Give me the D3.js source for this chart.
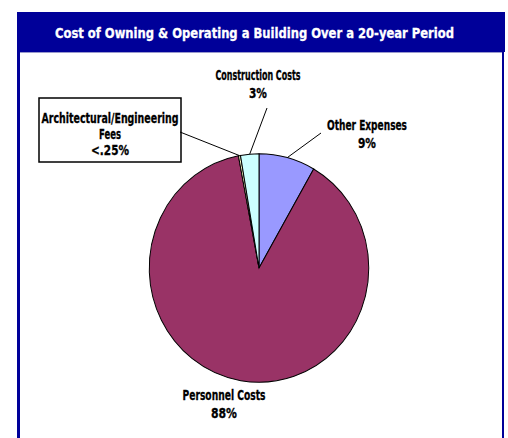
<!DOCTYPE html>
<html>
<head>
<meta charset="utf-8">
<script src="https://cdn.jsdelivr.net/npm/d3@7"></script>
<style>
  body { margin: 0; background: #fff; }
  text { font-family: "Liberation Sans Narrow", "DejaVu Sans Condensed", "Arial Narrow", sans-serif; font-weight: bold; }
</style>
</head>
<body>
<div id="vis"></div>
<script>
const categories = ["Other Expenses", "Personnel Costs", "Architectural/Engineering Fees", "Construction Costs"];
const values = [8.3, 88.7, 0.3, 2.7];
const pctLabels = ["9%", "88%", "<.25%", "3%"];
const colors = ["#9999FF", "#993366", "#FFFFCC", "#CCFFFF"];

const WIDTH = 508;
const HEIGHT = 438;
const SVG = d3.select("#vis").append("svg")
  .attr("width", WIDTH)
  .attr("height", HEIGHT);

// Marco azul
SVG.append("rect").attr("x", 17).attr("y", 12).attr("width", 488).attr("height", 40).attr("fill", "#000099");
SVG.append("rect").attr("x", 17).attr("y", 52).attr("width", 3).attr("height", HEIGHT - 52).attr("fill", "#000099");
SVG.append("rect").attr("x", 502).attr("y", 52).attr("width", 2).attr("height", HEIGHT - 52).attr("fill", "#000099");
SVG.append("line").attr("x1", 20).attr("x2", 502).attr("y1", 52.5).attr("y2", 52.5)
  .attr("stroke", "#9999CC").attr("stroke-width", 1);

SVG.append("text")
  .attr("x", 254.5).attr("y", 38)
  .attr("text-anchor", "middle")
  .attr("fill", "white")
  .attr("stroke", "white").attr("stroke-width", 0.3)
  .attr("font-size", 14)
  .attr("textLength", 399).attr("lengthAdjust", "spacingAndGlyphs")
  .text("Cost of Owning & Operating a Building Over a 20-year Period");

// Pie
const cx = 259, cy = 268, R = 112;
const pie = d3.pie().sort(null).value(d => d.value);
const arcs = pie(categories.map((c, i) => ({ name: c, value: values[i], pct: pctLabels[i], color: colors[i] })));
const arc = d3.arc().innerRadius(0).outerRadius(R);
const edge = d3.arc().innerRadius(R).outerRadius(R);

const g = SVG.append("g").attr("transform", `translate(${cx},${cy}) scale(0.98,1.02)`);
g.selectAll("path")
  .data(arcs)
  .join("path")
  .attr("d", arc)
  .attr("fill", d => d.data.color)
  .attr("stroke", "black")
  .attr("stroke-width", 1);

// Etiquetas: lineas de texto con su ancho, y punto de inicio de la linea guia
const labelLayout = [
  { lines: [["Other Expenses", 80], ["9%", 18]], x: 367, y: 130, from: [321, 133] },
  { lines: [["Personnel Costs", 83], ["88%", 26]], x: 224, y: 400, from: null },
  { lines: [["Architectural/Engineering", 137], ["Fees", 22], ["<.25%", 38]], x: 110, y: 123, from: [180, 132], box: [39, 98, 142, 64] },
  { lines: [["Construction Costs", 85], ["3%", 18]], x: 258, y: 80, from: [267, 108] }
];

arcs.forEach((d, i) => {
  const L = labelLayout[i];
  if (L.box) {
    SVG.append("rect")
      .attr("x", L.box[0]).attr("y", L.box[1])
      .attr("width", L.box[2]).attr("height", L.box[3])
      .attr("fill", "white").attr("stroke", "black").attr("stroke-width", 1.5);
  }
  if (L.from) {
    const p = edge.centroid(d);
    SVG.append("line")
      .attr("x1", L.from[0]).attr("y1", L.from[1])
      .attr("x2", cx + p[0] * 0.98).attr("y2", cy + p[1] * 1.02)
      .attr("stroke", "black").attr("stroke-width", 1);
  }
  L.lines.forEach((ln, j) => {
    SVG.append("text")
      .attr("x", L.x).attr("y", L.y + j * (L.box ? 16 : 17.5))
      .attr("text-anchor", "middle")
      .attr("fill", "black")
      .attr("stroke", "black").attr("stroke-width", 0.3)
      .attr("font-size", 14)
      .attr("textLength", ln[1]).attr("lengthAdjust", "spacingAndGlyphs")
      .text(ln[0]);
  });
});
</script>
</body>
</html>
